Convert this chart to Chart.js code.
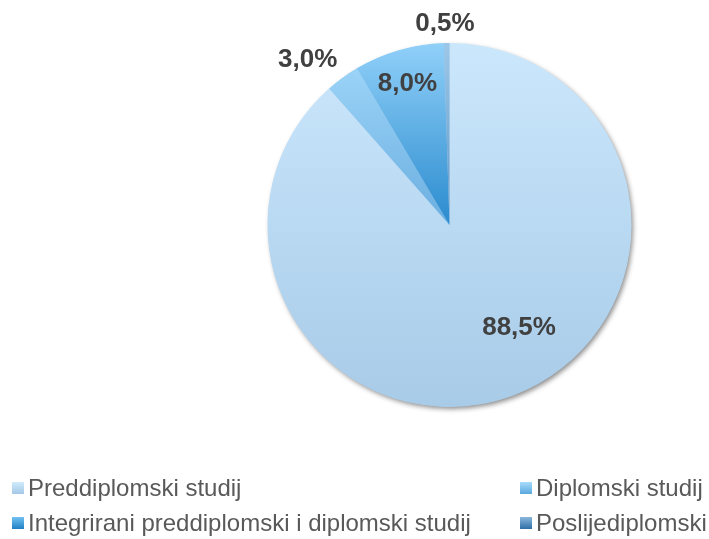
<!DOCTYPE html>
<html>
<head>
<meta charset="utf-8">
<script src="https://cdn.jsdelivr.net/npm/chart.js@4"></script>
<style>
html,body{margin:0;padding:0;background:#fff;}
#wrap{position:relative;width:709px;height:539px;}
</style>
</head>
<body>
<div id="wrap"><canvas id="c" width="709" height="539"></canvas></div>
<script>
// ---- data ----
const categories = ["Preddiplomski studij", "Diplomski studij", "Integrirani preddiplomski i diplomski studij", "Poslijediplomski"];
const shares = [88.5, 3.0, 8.0, 0.5];
const valueLabels = ["88,5%", "3,0%", "8,0%", "0,5%"];

// ---- styles ----
const sliceGradients = [
  ["#cbe7fc", "#a8cbe8"],
  ["#a3d9fb", "#6aaee0"],
  ["#90d0f9", "#2b8bce"],
  ["#9cc7e8", "#5f97c6"]
];
const legendGradients = [
  ["#d0ebfc", "#a4c8e6"],
  ["#a8dcfb", "#5aa8de"],
  ["#72c2f2", "#1f7fc4"],
  ["#8ab8dc", "#2e6ea6"]
];
// label placement: [radius factor, angle offset in degrees]
const labelPlacement = [[0.68, -13.5], [1.195, -4.7], [0.81, -0.4], [1.105, -0.4]];

const shadowPlugin = {
  id: 'pieShadow',
  beforeDatasetsDraw(chart) {
    const arc = chart.getDatasetMeta(0).data[0];
    if (!arc) return;
    const ctx = chart.ctx;
    ctx.save();
    ctx.shadowColor = 'rgba(0,0,0,0.45)';
    ctx.shadowBlur = 5;
    ctx.shadowOffsetX = 2;
    ctx.shadowOffsetY = 2.5;
    ctx.fillStyle = '#b0d0ea';
    ctx.beginPath();
    ctx.arc(arc.x, arc.y, arc.outerRadius - 0.5, 0, Math.PI * 2);
    ctx.fill();
    ctx.restore();
  }
};

const labelPlugin = {
  id: 'valueLabels',
  afterDatasetsDraw(chart) {
    const ctx = chart.ctx;
    const meta = chart.getDatasetMeta(0);
    ctx.save();
    ctx.font = 'bold 26px "Liberation Sans", Arial, sans-serif';
    ctx.fillStyle = '#404040';
    ctx.textAlign = 'center';
    ctx.textBaseline = 'middle';
    meta.data.forEach((arc, i) => {
      const mid = (arc.startAngle + arc.endAngle) / 2 + labelPlacement[i][1] * Math.PI / 180;
      const r = arc.outerRadius * labelPlacement[i][0];
      ctx.fillText(valueLabels[i], arc.x + Math.cos(mid) * r, arc.y + Math.sin(mid) * r);
    });
    ctx.restore();
  }
};

const legendPlugin = {
  id: 'gridLegend',
  afterDraw(chart) {
    const ctx = chart.ctx;
    const colX = [12, 520];
    const rowY = [488, 523];
    ctx.save();
    ctx.font = '24px "Liberation Sans", Arial, sans-serif';
    ctx.fillStyle = '#595959';
    ctx.textBaseline = 'middle';
    ctx.textAlign = 'left';
    categories.forEach((name, i) => {
      const x = colX[i % 2], y = rowY[Math.floor(i / 2)];
      const g = ctx.createLinearGradient(0, y - 6, 0, y + 6);
      g.addColorStop(0, legendGradients[i][0]);
      g.addColorStop(1, legendGradients[i][1]);
      ctx.fillStyle = g;
      ctx.fillRect(x, y - 6, 12, 12);
      ctx.fillStyle = '#595959';
      ctx.fillText(name, x + 16, y + 1);
    });
    ctx.restore();
  }
};

new Chart(document.getElementById('c'), {
  type: 'pie',
  data: {
    labels: categories,
    datasets: [{
      data: shares,
      borderWidth: 0,
      backgroundColor(context) {
        const chart = context.chart;
        const area = chart.chartArea;
        if (!area) return sliceGradients[context.dataIndex][0];
        const i = context.dataIndex;
        const cy = (area.top + area.bottom) / 2;
        const bottom = i === 0 ? area.bottom : cy;
        const g = chart.ctx.createLinearGradient(0, area.top, 0, bottom);
        g.addColorStop(0, sliceGradients[i][0]);
        g.addColorStop(1, sliceGradients[i][1]);
        return g;
      }
    }]
  },
  options: {
    responsive: false,
    animation: false,
    layout: { padding: { left: 267, right: 77, top: 43, bottom: 132 } },
    plugins: { legend: { display: false }, tooltip: { enabled: false } }
  },
  plugins: [shadowPlugin, labelPlugin, legendPlugin]
});
</script>
</body>
</html>
